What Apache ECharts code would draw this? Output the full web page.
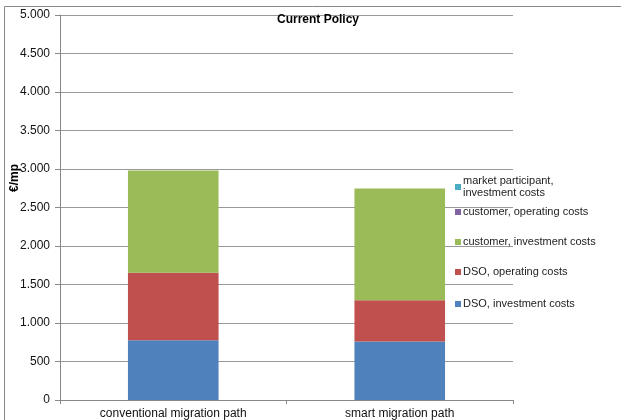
<!DOCTYPE html>
<html>
<head>
<meta charset="utf-8">
<script src="https://cdn.jsdelivr.net/npm/echarts@6/dist/echarts.min.js"></script>
<style>html,body{margin:0;padding:0;background:#fff;}#c{width:621px;height:420px;}</style>
</head>
<body>
<div id="c"></div>
<script>
const categories = ['conventional migration path', 'smart migration path'];
const dsoInvestment = [777, 760];
const dsoOperating = [877, 535];
const customerInvestment = [1325, 1451];
const customerOperating = [0, 0];
const marketInvestment = [0, 0];
const yTicks = [0, 500, 1000, 1500, 2000, 2500, 3000, 3500, 4000, 4500, 5000];

const names = ['DSO, investment costs', 'DSO, operating costs', 'customer, investment costs', 'customer, operating costs', 'market participant, investment costs'];
const colors = ['#4F81BD', '#C0504D', '#9BBB59', '#8064A2', '#4BACC6'];
const values = [dsoInvestment, dsoOperating, customerInvestment, customerOperating, marketInvestment];

const font = 'Liberation Sans, Arial, sans-serif';
const chart = echarts.init(document.getElementById('c'));

const legendTops = [298, 266, 236, 206, 175];
const legends = names.map((n, i) => ({
  data: [n],
  orient: 'vertical',
  left: 455,
  top: legendTops[i],
  itemWidth: 6,
  itemHeight: 6,
  itemGap: 0,
  padding: 0,
  selectedMode: false,
  icon: 'rect',
  formatter: nm => nm === 'market participant, investment costs' ? 'market participant,\ninvestment costs' : nm,
  textStyle: { fontFamily: font, fontSize: 11, color: '#222', padding: [0, 0, 0, -3], lineHeight: 12 }
}));

chart.setOption({
  animation: false,
  title: {
    text: 'Current Policy',
    left: 313,
    top: 9,
    textAlign: 'center',
    textStyle: { fontFamily: font, fontSize: 12, fontWeight: 'bold', color: '#000' }
  },
  legend: legends,
  grid: { left: 60, right: 108, top: 15, bottom: 19 },
  xAxis: {
    type: 'category',
    data: categories,
    axisLine: { lineStyle: { color: '#888' } },
    axisTick: { show: true, length: 4, lineStyle: { color: '#888' } },
    axisLabel: { fontFamily: font, fontSize: 12, color: '#111', margin: 8 }
  },
  yAxis: {
    type: 'value',
    min: 0,
    max: 5000,
    interval: 500,
    axisLine: { show: true, lineStyle: { color: '#888' } },
    axisTick: { show: true, length: 5, lineStyle: { color: '#888' } },
    axisLabel: {
      fontFamily: font, fontSize: 12, color: '#111', margin: 10,
      formatter: v => String(v).replace(/\B(?=(\d{3})+(?!\d))/g, '.')
    },
    splitLine: { lineStyle: { color: '#999', width: 1 } }
  },
  graphic: [
    { type: 'line', shape: { x1: 4.5, y1: 6.5, x2: 621, y2: 6.5 }, style: { stroke: '#888', lineWidth: 1 } },
    { type: 'line', shape: { x1: 4.5, y1: 6.5, x2: 4.5, y2: 420 }, style: { stroke: '#888', lineWidth: 1 } },
    { type: 'text', x: 15, y: 178, rotation: Math.PI / 2,
      style: { text: '€/mp', fontFamily: font, fontSize: 12, fontWeight: 'bold', fill: '#000', textAlign: 'center', textVerticalAlign: 'middle' } }
  ],
  series: names.map((n, i) => ({
    name: n,
    type: 'bar',
    stack: 'total',
    barWidth: '40%',
    data: values[i],
    itemStyle: { color: colors[i] }
  }))
});
</script>
</body>
</html>
